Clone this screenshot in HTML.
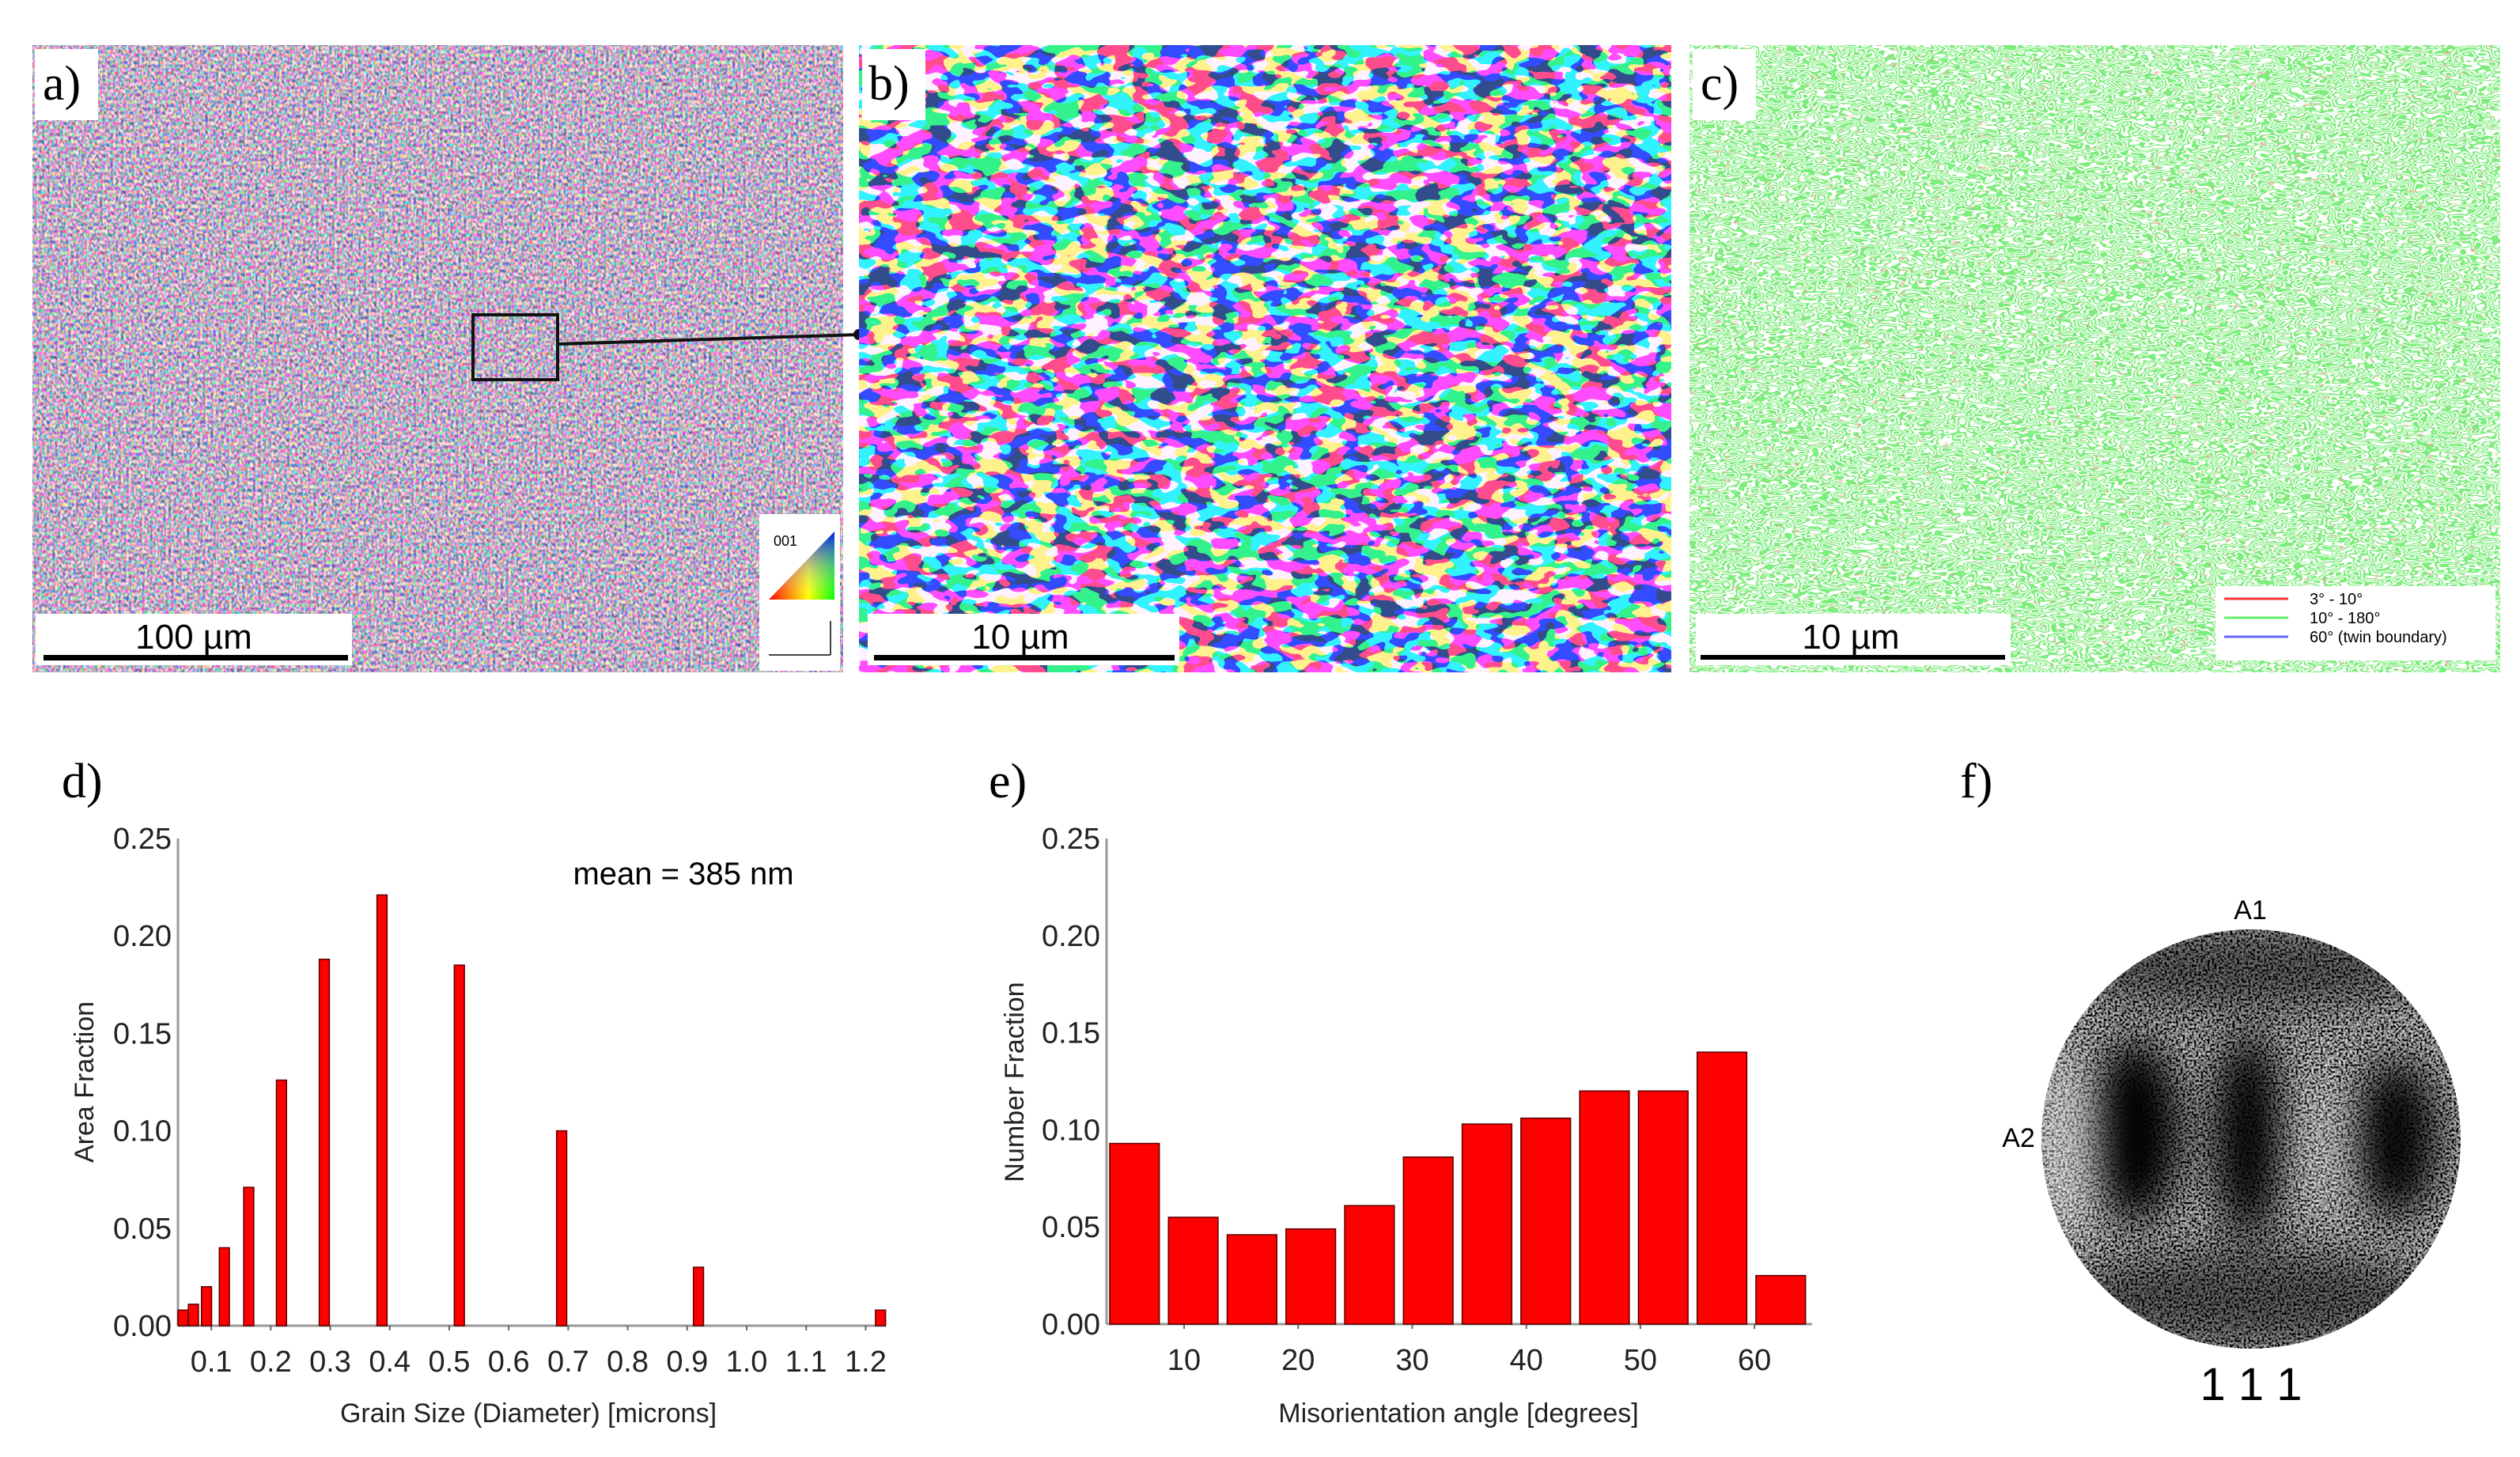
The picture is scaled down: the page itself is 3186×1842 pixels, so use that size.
<!DOCTYPE html>
<html><head><meta charset="utf-8">
<style>
html,body{margin:0;padding:0;background:#fff;}
svg{display:block;}
text{font-family:"Liberation Sans Narrow","Liberation Sans",sans-serif;}
.pl{font-family:"Liberation Serif",serif;font-size:62px;}
</style></head>
<body>
<svg id="fig" width="3186" height="1842" viewBox="0 0 3186 1842" xmlns="http://www.w3.org/2000/svg">
<defs>
  <filter id="fa" x="0" y="0" width="1" height="1" color-interpolation-filters="sRGB">
    <feTurbulence type="fractalNoise" baseFrequency="0.3 0.22" numOctaves="1" seed="3"/>
    <feColorMatrix type="matrix" values="1 0 0 0 0  0 1 0 0 0  0 0 1 0 0  0 0 0 0 1"/>
    <feComponentTransfer>
      <feFuncR type="discrete" tableValues="0.3 0.3 0.55 0.95 1 1"/>
      <feFuncG type="discrete" tableValues="0.35 0.35 0.55 0.8 0.95 0.95"/>
      <feFuncB type="discrete" tableValues="0.5 0.5 0.7 0.85 1 1"/>
    </feComponentTransfer>
  </filter>
  <filter id="fb" x="0" y="0" width="1" height="1" color-interpolation-filters="sRGB">
    <feTurbulence type="fractalNoise" baseFrequency="0.03 0.055" numOctaves="2" seed="7"/>
    <feComponentTransfer>
      <feFuncR type="discrete" tableValues="0.2 1"/>
      <feFuncG type="discrete" tableValues="0.3 0.95"/>
      <feFuncB type="discrete" tableValues="0.55 1"/>
      <feFuncA type="table" tableValues="1 1"/>
    </feComponentTransfer>
  </filter>
  <filter id="fc" x="0" y="0" width="1" height="1">
    <feTurbulence type="fractalNoise" baseFrequency="0.04 0.09" numOctaves="2" seed="11" result="t"/>
    <feColorMatrix in="t" type="matrix" values="0 0 0 0 0.2  0 0 0 0 0.85  0 0 0 0 0.2  1 0 0 0 0" result="g"/>
    <feComponentTransfer in="g">
      <feFuncA type="discrete" tableValues="0 1 0 1 0 1 0 1 0 1 0 1 0 1 0 1"/>
    </feComponentTransfer>
  </filter>
  <filter id="fc2" x="0" y="0" width="1" height="1">
    <feTurbulence type="fractalNoise" baseFrequency="0.09 0.2" numOctaves="1" seed="21" result="t"/>
    <feColorMatrix in="t" type="matrix" values="0 0 0 0 1  0 0 0 0 0.3  0 0 0 0 0.3  3 0 0 0 -1.9"/>
  </filter>
  <filter id="ff" x="0" y="0" width="1" height="1">
    <feTurbulence type="fractalNoise" baseFrequency="0.35" numOctaves="1" seed="5"/>
    <feColorMatrix type="matrix" values="2 0 0 0 -0.75  2 0 0 0 -0.75  2 0 0 0 -0.75  0 0 0 0 1"/>
  </filter>
  <filter id="blur"><feGaussianBlur stdDeviation="26"/></filter>
  <clipPath id="pc"><circle cx="2846" cy="1440" r="265"/></clipPath>
</defs>

<!-- panel a -->
<g>
  <rect x="41" y="57" width="1025" height="793" fill="#c8a8d8"/>
  <rect x="41" y="57" width="1025" height="793" fill="#c8a8d8" filter="url(#fa)"/>
  <rect x="44" y="62" width="80" height="90" fill="#fff"/>
  <text class="pl" x="54" y="126">a)</text>
  <rect x="598" y="398" width="107" height="82" fill="none" stroke="#111" stroke-width="4"/>
  <line x1="705" y1="435" x2="1086" y2="423" stroke="#111" stroke-width="4"/>
  <circle cx="1086" cy="423" r="7" fill="#111"/>
  <g>
    <rect x="45" y="776" width="400" height="65" fill="#fff"/>
    <text x="245" y="820" font-size="44" text-anchor="middle" font-family="Liberation Sans,sans-serif">100 µm</text>
    <rect x="55" y="828" width="385" height="7" fill="#000"/>
  </g>
  <g>
    <rect x="960" y="650" width="102" height="198" fill="#fff"/>
    <defs><linearGradient id="tri" x1="0" y1="0" x2="1" y2="0"><stop offset="0" stop-color="#f00"/><stop offset="0.6" stop-color="#ff0"/><stop offset="1" stop-color="#0f0"/></linearGradient>
    <linearGradient id="tri2" x1="0" y1="1" x2="0" y2="0"><stop offset="0" stop-color="#fff" stop-opacity="0"/><stop offset="1" stop-color="#00f" stop-opacity="0.9"/></linearGradient></defs>
    <polygon points="972,758 1055,758 1055,672" fill="url(#tri)"/>
    <polygon points="972,758 1055,758 1055,672" fill="url(#tri2)"/>
    <text x="978" y="690" font-size="18">001</text>
    <line x1="972" y1="828" x2="1050" y2="828" stroke="#444" stroke-width="2"/>
    <line x1="1050" y1="828" x2="1050" y2="785" stroke="#444" stroke-width="2"/>
  </g>
</g>

<!-- panel b -->
<g>
  <rect x="1086" y="57" width="1027" height="793" fill="#a0c0e0" filter="url(#fb)"/>
  <rect x="1090" y="62" width="80" height="90" fill="#fff"/>
  <text class="pl" x="1098" y="126">b)</text>
  <g>
    <rect x="1097" y="776" width="394" height="65" fill="#fff"/>
    <text x="1290" y="820" font-size="44" text-anchor="middle" font-family="Liberation Sans,sans-serif">10 µm</text>
    <rect x="1105" y="828" width="380" height="7" fill="#000"/>
  </g>
</g>

<!-- panel c -->
<g>
  <rect x="2136" y="57" width="1025" height="793" fill="#fff"/>
  <rect x="2136" y="57" width="1025" height="793" fill="#fff" filter="url(#fc)"/>
  <rect x="2136" y="57" width="1025" height="793" fill="#fff" filter="url(#fc2)"/>
  <rect x="2140" y="62" width="80" height="90" fill="#fff"/>
  <text class="pl" x="2150" y="126">c)</text>
  <g>
    <rect x="2144" y="776" width="398" height="65" fill="#fff"/>
    <text x="2340" y="820" font-size="44" text-anchor="middle" font-family="Liberation Sans,sans-serif">10 µm</text>
    <rect x="2150" y="828" width="385" height="6" fill="#000"/>
  </g>
  <g font-family="Liberation Sans,sans-serif" font-size="20">
    <rect x="2801" y="741" width="354" height="94" fill="#fff"/>
    <line x1="2812" y1="757" x2="2893" y2="757" stroke="#f33" stroke-width="3"/>
    <text x="2920" y="764">3° - 10°</text>
    <line x1="2812" y1="781" x2="2893" y2="781" stroke="#6e6" stroke-width="3"/>
    <text x="2920" y="788">10° - 180°</text>
    <line x1="2812" y1="805" x2="2893" y2="805" stroke="#66f" stroke-width="3"/>
    <text x="2920" y="812">60°  (twin boundary)</text>
  </g>
</g>

<!-- chart d -->
<g id="chartD">
  <text class="pl" x="78" y="1008">d)</text>
  <text x="864" y="1118" font-size="40" text-anchor="middle" font-family="Liberation Sans,sans-serif">mean = 385 nm</text>
  <text transform="translate(118,1368) rotate(-90)" font-size="34" text-anchor="middle" font-family="Liberation Sans,sans-serif" fill="#222">Area Fraction</text>
  <text x="668" y="1798" font-size="34" text-anchor="middle" font-family="Liberation Sans,sans-serif" fill="#222">Grain Size (Diameter) [microns]</text>
</g>

<!-- chart e -->
<g id="chartE">
  <text class="pl" x="1250" y="1008">e)</text>
  <text transform="translate(1294,1368) rotate(-90)" font-size="34" text-anchor="middle" font-family="Liberation Sans,sans-serif" fill="#222">Number Fraction</text>
  <text x="1844" y="1798" font-size="34" text-anchor="middle" font-family="Liberation Sans,sans-serif" fill="#222">Misorientation angle [degrees]</text>
</g>

<!-- panel f -->
<g>
  <text class="pl" x="2478" y="1008">f)</text>
  <g clip-path="url(#pc)">
    <rect x="2576" y="1170" width="540" height="540" fill="#555" filter="url(#ff)"/>
    <g filter="url(#blur)" fill="#000">
      <ellipse cx="2700" cy="1430" rx="55" ry="115" opacity="1"/>
      <ellipse cx="2842" cy="1435" rx="40" ry="130" opacity="1"/>
      <ellipse cx="3030" cy="1440" rx="50" ry="100" opacity="0.95"/>
      <ellipse cx="2846" cy="1225" rx="230" ry="50" opacity="0.5"/>
      <ellipse cx="2846" cy="1640" rx="230" ry="60" opacity="0.5"/>
    </g>
    <g filter="url(#blur)" fill="#fff">
      <ellipse cx="2612" cy="1450" rx="40" ry="120" opacity="0.45"/>
      <ellipse cx="2940" cy="1450" rx="35" ry="90" opacity="0.25"/>
    </g>
  </g>
  <text x="2845" y="1162" font-size="34" text-anchor="middle" font-family="Liberation Sans,sans-serif">A1</text>
  <text x="2552" y="1450" font-size="34" text-anchor="middle" font-family="Liberation Sans,sans-serif">A2</text>
  <text x="2846" y="1770" font-size="58" text-anchor="middle" font-family="Liberation Sans,sans-serif">1 1 1</text>
</g>
</svg>

<script>
const NS = "http://www.w3.org/2000/svg";
// chart d data
const dSizes = [0.0525, 0.070, 0.092, 0.122, 0.163, 0.218, 0.290, 0.387, 0.517, 0.689, 0.919, 1.225];
const dFractions = [0.008, 0.011, 0.020, 0.040, 0.071, 0.126, 0.188, 0.221, 0.185, 0.100, 0.030, 0.008];
const dXTicks = [0.1, 0.2, 0.3, 0.4, 0.5, 0.6, 0.7, 0.8, 0.9, 1.0, 1.1, 1.2];
const dXTickLabels = ["0.1","0.2","0.3","0.4","0.5","0.6","0.7","0.8","0.9","1.0","1.1","1.2"];
// chart e data
const eAngles = [5.65, 10.8, 15.95, 21.1, 26.25, 31.4, 36.55, 41.7, 46.85, 52.0, 57.15, 62.3];
const eFractions = [0.093, 0.055, 0.046, 0.049, 0.061, 0.086, 0.103, 0.106, 0.120, 0.120, 0.140, 0.025];
const eXTicks = [10, 20, 30, 40, 50, 60];
const yTicks = [0, 0.05, 0.10, 0.15, 0.20, 0.25];
const yTickLabels = ["0.00","0.05","0.10","0.15","0.20","0.25"];

function mk(tag, attrs, parent) {
  const el = document.createElementNS(NS, tag);
  for (const k in attrs) el.setAttribute(k, attrs[k]);
  parent.appendChild(el);
  return el;
}

function drawChart(g, o) {
  const x = v => o.x0 + (v - o.xmin) / (o.xmax - o.xmin) * (o.x1 - o.x0);
  const y = v => o.y0 - v / 0.25 * (o.y0 - o.yTop);
  const ax = mk("line", {x1: o.x0, y1: o.yTop, x2: o.x0, y2: o.y0, stroke: "#999", "stroke-width": 3}, g);
  
  
  const bx = mk("line", {x1: o.x0, y1: o.y0, x2: o.x1, y2: o.y0, stroke: "#999", "stroke-width": 3}, g);
  
  
  yTicks.forEach((t, i) => {
    const tl = mk("text", {x: o.x0 - 8, y: y(t) + 13, "font-size": 38, "text-anchor": "end", fill: "#222"}, g);
    tl.textContent = yTickLabels[i];
    
    
  });
  o.xt.forEach((t, i) => {
    const tl = mk("text", {x: x(t), y: o.y0 + 58, "font-size": 38, "text-anchor": "middle", fill: "#222"}, g);
    tl.textContent = o.xtl[i];
    
    
    const tk = mk("line", {x1: x(t), y1: o.y0, x2: x(t), y2: o.y0 + 6, stroke: "#666", "stroke-width": 2}, g);
    
    
  });
  o.xs.forEach((v, i) => {
    const hw = o.bw / 2 * (o.x1 - o.x0) / (o.xmax - o.xmin);
    const r = mk("rect", {x: x(v) - hw, y: y(o.ys[i]), width: 2 * hw, height: o.y0 - y(o.ys[i]), fill: "#f00", stroke: "#5a0000", "stroke-width": 1.5}, g);
    
    
  });
}

drawChart(document.getElementById("chartD"), {
  x0: 225, x1: 1120, y0: 1676, yTop: 1060, xmin: 0.044, xmax: 1.234,
  xs: dSizes, ys: dFractions, bw: 0.017, xt: dXTicks, xtl: dXTickLabels
});
drawChart(document.getElementById("chartE"), {
  x0: 1399, x1: 2291, y0: 1674, yTop: 1060, xmin: 3.2, xmax: 65.05,
  xs: eAngles, ys: eFractions, bw: 4.35, xt: eXTicks, xtl: eXTicks.map(String)
});
</script>
</body></html>
